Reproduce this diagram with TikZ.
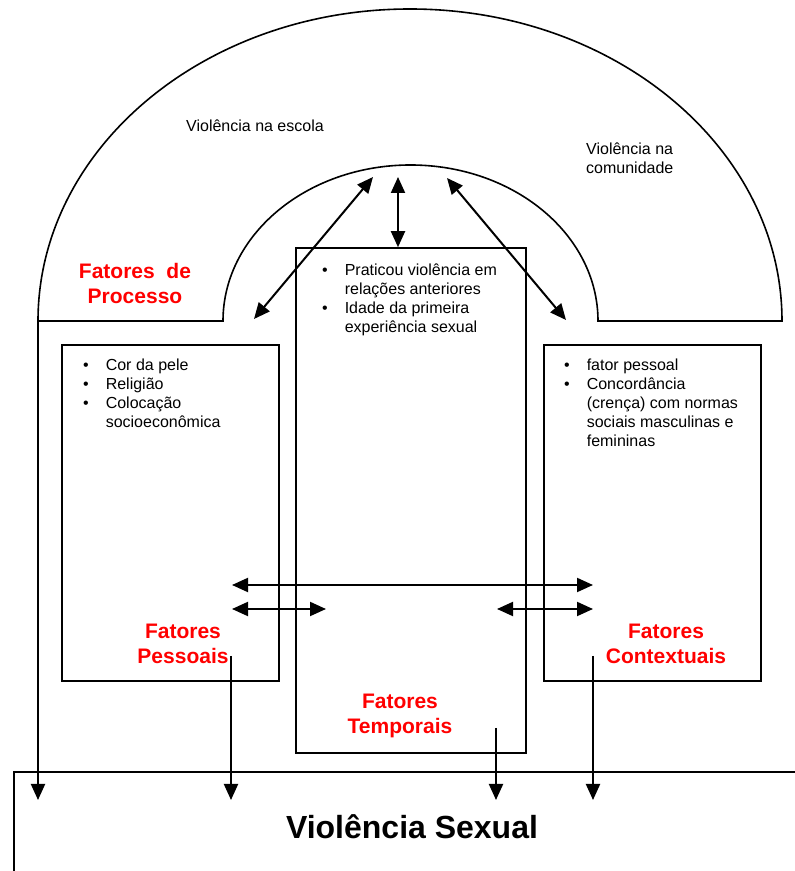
\documentclass[tikz,border=0pt]{standalone}
\usepackage{fontspec}
\setmainfont{Liberation Sans}
\usetikzlibrary{arrows.meta}
\begin{document}
\begin{tikzpicture}[x=1pt, y=1pt,
  box/.style={draw, line width=1.6pt, inner sep=0pt},
  lbl/.style={inner sep=0pt, align=left, font=\fontsize{16}{19}\selectfont},
  fator/.style={inner sep=0pt, align=center, text=red, font=\fontsize{21}{25.5}\selectfont\bfseries},
  dup/.style={line width=2pt, {Triangle[length=16pt,width=14pt]}-{Triangle[length=16pt,width=14pt]}},
  desce/.style={line width=2pt, -{Triangle[length=16pt,width=14pt]}}]
\useasboundingbox (0,0) rectangle (795,871);

\draw[line width=1.6pt] (38,550) arc[start angle=180, end angle=0, x radius=372, y radius=312]
  -- (598,550) arc[start angle=0, end angle=180, x radius=187.5, y radius=156] -- cycle;
\draw[line width=1.6pt] (795,99) -- (14,99) -- (14,0);

\node[box, minimum width=217pt, minimum height=336pt] (pess) at (170.5,358) {};
\node[box, minimum width=230pt, minimum height=505pt] (temp) at (411,370.5) {};
\node[box, minimum width=217pt, minimum height=336pt] (cont) at (652.5,358) {};

\node[lbl, anchor=west] (escola) at (186,745) {Violência na escola};
\node[lbl, anchor=west] (comun) at (586,713) {Violência na\\comunidade};
\node[fator] (proc) at (135,587.5) {Fatores\ \ de\\Processo};

\node[lbl, anchor=north west] (ltemp) at (322,609) {\begin{tabular}{@{}l@{\hspace{17pt}}l@{}}
\textbullet & Praticou violência em\\ & relações anteriores\\
\textbullet & Idade da primeira\\ & experiência sexual\end{tabular}};
\node[lbl, anchor=north west] (lpess) at (83,514) {\begin{tabular}{@{}l@{\hspace{17pt}}l@{}}
\textbullet & Cor da pele\\ \textbullet & Religião\\
\textbullet & Colocação\\ & socioeconômica\end{tabular}};
\node[lbl, anchor=north west] (lcont) at (564,514) {\begin{tabular}{@{}l@{\hspace{17pt}}l@{}}
\textbullet & fator pessoal\\ \textbullet & Concordância\\
 & (crença) com normas\\ & sociais masculinas e\\ & femininas\end{tabular}};

\node[fator] (fpess) at (183,227) {Fatores\\Pessoais};
\node[fator] (fcont) at (666,227) {Fatores\\Contextuais};
\node[fator] (ftemp) at (400,155) {Fatores\\Temporais};
\node[inner sep=0pt, font=\fontsize{32}{38}\selectfont\bfseries] (viol) at (412,44) {Violência Sexual};

\coordinate (aL1) at (373,694);
\coordinate (aL2) at (254,552);
\coordinate (aM) at (398,694);
\coordinate (aR1) at (447,693);
\coordinate (aR2) at (566,551);
\draw[dup] (aL1) -- (aL2);
\draw[dup] (aM) -- (aM |- temp.north);
\draw[dup] (aR1) -- (aR2);

\coordinate (h1) at (232,286);
\coordinate (h2) at (593,286);
\coordinate (h3) at (232,262);
\coordinate (h4) at (326,262);
\coordinate (h5) at (497,262);
\coordinate (h6) at (593,262);
\draw[dup] (h1) -- (h2);
\draw[dup] (h3) -- (h4);
\draw[dup] (h5) -- (h6);

\coordinate (d0) at (38,550);
\coordinate (d1) at (231,215);
\coordinate (d2) at (496,143);
\coordinate (d3) at (593,215);
\draw[desce] (d0) -- (d0 |- 0,71);
\draw[desce] (d1) -- (d1 |- 0,71);
\draw[desce] (d2) -- (d2 |- 0,71);
\draw[desce] (d3) -- (d3 |- 0,71);
\end{tikzpicture}
\end{document}
